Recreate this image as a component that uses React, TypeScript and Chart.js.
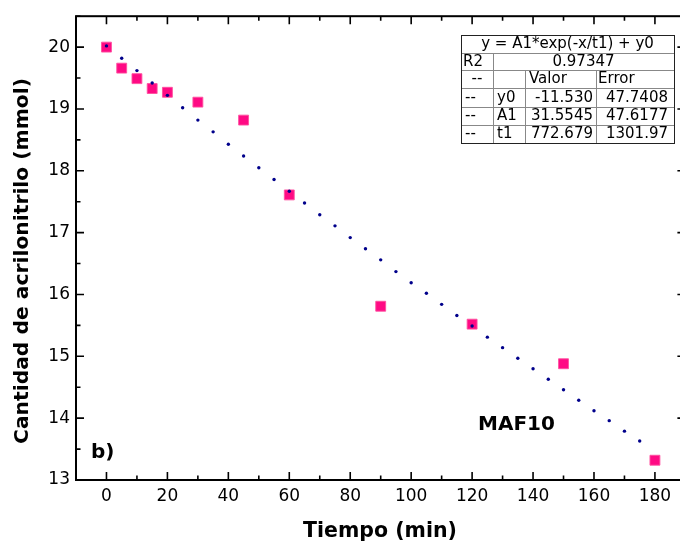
import React, { useEffect, useRef } from 'react';
import { Chart, registerables } from 'chart.js';
Chart.register(...registerables);

// Measured data (Tiempo in min, Cantidad de acrilonitrilo in mmol)
const TIME = [0, 5, 10, 15, 20, 30, 45, 60, 90, 120, 150, 180];
const AMOUNT = [20.0, 19.66, 19.49, 19.33, 19.27, 19.11, 18.82, 17.61, 15.81, 15.52, 14.88, 13.32];

// Fitted curve points (dotted line)
const FIT_X = [0, 5, 10, 15, 20, 25, 30, 35, 40, 45, 50, 55, 60, 65, 70, 75, 80, 85, 90, 95, 100, 105, 110, 115, 120, 125, 130, 135, 140, 145, 150, 155, 160, 165, 170, 175];
const FIT_Y = [20.02, 19.82, 19.62, 19.42, 19.22, 19.02, 18.82, 18.63, 18.43, 18.24, 18.05, 17.86, 17.67, 17.48, 17.29, 17.11, 16.92, 16.74, 16.56, 16.37, 16.19, 16.02, 15.84, 15.66, 15.49, 15.31, 15.14, 14.97, 14.80, 14.63, 14.46, 14.29, 14.12, 13.96, 13.79, 13.63];

const X_TICKS = [0, 20, 40, 60, 80, 100, 120, 140, 160, 180];
const X_MINOR = [-10, 10, 30, 50, 70, 90, 110, 130, 150, 170, 190];
const Y_TICKS = [13, 14, 15, 16, 17, 18, 19, 20];
const Y_MINOR = [13.5, 14.5, 15.5, 16.5, 17.5, 18.5, 19.5, 20.5];

const X_TITLE = 'Tiempo (min)';
const Y_TITLE = 'Cantidad de acrilonitrilo (mmol)';
const SAMPLE_LABEL = 'MAF10';
const PANEL_LABEL = 'b)';

const FIT_EQUATION = 'y = A1*exp(-x/t1) + y0';
const R2_VALUE = '0.97347';
const PARAM_NAMES = ['y0', 'A1', 't1'];
const PARAM_VALUES = ['-11.530', '31.5545', '772.679'];
const PARAM_ERRORS = ['47.7408', '47.6177', '1301.97'];

const FONT = '"DejaVu Sans", Verdana, sans-serif';

const framePlugin = {
  id: 'frameAndText',
  afterDatasetsDraw(chart: any) {
    const { ctx, chartArea: a, scales } = chart;
    const xs = scales.x;
    const ys = scales.y;
    ctx.save();
    ctx.strokeStyle = '#000';
    ctx.lineCap = 'butt';
    // ticks
    ctx.lineWidth = 1.6;
    const major = 8;
    const minor = 4.5;
    const drawX = (v: number, len: number) => {
      const px = xs.getPixelForValue(v);
      ctx.beginPath();
      ctx.moveTo(px, a.bottom);
      ctx.lineTo(px, a.bottom - len);
      ctx.moveTo(px, a.top);
      ctx.lineTo(px, a.top + len);
      ctx.stroke();
    };
    const drawY = (v: number, len: number) => {
      const py = ys.getPixelForValue(v);
      ctx.beginPath();
      ctx.moveTo(a.left, py);
      ctx.lineTo(a.left + len, py);
      ctx.moveTo(a.right, py);
      ctx.lineTo(a.right - len, py);
      ctx.stroke();
    };
    X_TICKS.forEach((v) => drawX(v, major));
    X_MINOR.forEach((v) => drawX(v, minor));
    Y_TICKS.forEach((v) => drawY(v, major));
    Y_MINOR.forEach((v) => drawY(v, minor));
    // frame
    ctx.lineWidth = 2;
    ctx.strokeRect(a.left, a.top, a.right - a.left, a.bottom - a.top);

    // axis titles
    ctx.fillStyle = '#000';
    ctx.font = `bold 20.5px ${FONT}`;
    ctx.textAlign = 'center';
    ctx.textBaseline = 'middle';
    ctx.fillText(X_TITLE, 380, 532);
    ctx.save();
    ctx.font = `bold 20.3px ${FONT}`;
    ctx.translate(23, 261);
    ctx.rotate(-Math.PI / 2);
    ctx.fillText(Y_TITLE, 0, 0);
    ctx.restore();

    // annotations
    ctx.font = `bold 20px ${FONT}`;
    ctx.textAlign = 'left';
    ctx.fillText(SAMPLE_LABEL, 478, 425);
    ctx.fillText(PANEL_LABEL, 91, 453);

    // fit table
    const x0 = 461, x1 = 674, c1 = 493, c2 = 525, c3 = 596;
    const rows = [35, 53, 70, 88, 107, 125, 143];
    ctx.fillStyle = '#fff';
    ctx.fillRect(x0, rows[0], x1 - x0, rows[6] - rows[0]);
    ctx.strokeStyle = '#888';
    ctx.lineWidth = 1;
    ctx.beginPath();
    for (let i = 1; i < 6; i++) {
      ctx.moveTo(x0, rows[i] + 0.5);
      ctx.lineTo(x1, rows[i] + 0.5);
    }
    ctx.moveTo(c1 + 0.5, rows[1]);
    ctx.lineTo(c1 + 0.5, rows[6]);
    ctx.moveTo(c2 + 0.5, rows[2]);
    ctx.lineTo(c2 + 0.5, rows[6]);
    ctx.moveTo(c3 + 0.5, rows[2]);
    ctx.lineTo(c3 + 0.5, rows[6]);
    ctx.stroke();
    ctx.strokeStyle = '#222';
    ctx.strokeRect(x0 + 0.5, rows[0] + 0.5, x1 - x0, rows[6] - rows[0]);

    ctx.fillStyle = '#000';
    ctx.font = `15px ${FONT}`;
    ctx.textBaseline = 'middle';
    const mid = (i: number) => (rows[i] + rows[i + 1]) / 2 + 0.5;
    ctx.textAlign = 'center';
    ctx.fillText(FIT_EQUATION, (x0 + x1) / 2, mid(0));
    ctx.fillText(R2_VALUE, (c1 + x1) / 2, mid(1));
    ctx.textAlign = 'left';
    ctx.fillText('R2', x0 + 2, mid(1));
    ctx.textAlign = 'center';
    ctx.fillText('--', (x0 + c1) / 2, mid(2));
    ctx.textAlign = 'left';
    ctx.fillText('Valor', c2 + 4, mid(2));
    ctx.fillText('Error', c3 + 2, mid(2));
    for (let i = 0; i < 3; i++) {
      ctx.textAlign = 'left';
      ctx.fillText('--', x0 + 4, mid(3 + i));
      ctx.fillText(PARAM_NAMES[i], c1 + 4, mid(3 + i));
      ctx.textAlign = 'right';
      ctx.fillText(PARAM_VALUES[i], c3 - 3, mid(3 + i));
      ctx.fillText(PARAM_ERRORS[i], x1 - 6, mid(3 + i));
    }
    ctx.restore();
  },
};

export default function App() {
  const ref = useRef<HTMLCanvasElement>(null);
  useEffect(() => {
    if (!ref.current) return;
    const chart = new Chart(ref.current, {
      type: 'scatter',
      data: {
        datasets: [
          {
            label: 'fit',
            data: FIT_X.map((x, i) => ({ x, y: FIT_Y[i] })),
            pointRadius: 1.7,
            pointStyle: 'circle',
            backgroundColor: '#00008B',
            borderColor: '#00008B',
            borderWidth: 0,
            showLine: false,
            order: 0,
          },
          {
            label: 'data',
            data: TIME.map((x, i) => ({ x, y: AMOUNT[i] })),
            pointRadius: 7,
            pointStyle: 'rect',
            backgroundColor: '#FF0A84',
            borderColor: 'rgba(255,80,160,0.9)',
            borderWidth: 1,
            order: 1,
          },
        ],
      },
      options: {
        animation: false,
        responsive: false,
        events: [],
        layout: { padding: { top: 13, right: 14.6, left: 0, bottom: 0 } },
        plugins: { legend: { display: false }, tooltip: { enabled: false } },
        scales: {
          x: {
            type: 'linear',
            min: -10,
            max: 190,
            grid: { display: false, drawTicks: false },
            border: { display: false },
            afterBuildTicks: (s: any) => {
              s.ticks = X_TICKS.map((v) => ({ value: v }));
            },
            afterFit: (s: any) => {
              s.height = 66;
            },
            ticks: {
              color: '#000',
              font: { family: FONT, size: 17 },
              padding: 6,
              maxRotation: 0,
              autoSkip: false,
            },
          },
          y: {
            type: 'linear',
            min: 13,
            max: 20.5,
            grid: { display: false, drawTicks: false },
            border: { display: false },
            afterBuildTicks: (s: any) => {
              s.ticks = Y_TICKS.map((v) => ({ value: v }));
            },
            afterFit: (s: any) => {
              s.width = 76;
            },
            ticks: {
              color: '#000',
              font: { family: FONT, size: 17 },
              padding: 6,
              autoSkip: false,
            },
          },
        },
      },
      plugins: [framePlugin],
    });
    return () => chart.destroy();
  }, []);
  return (
    <div style={{ position: 'fixed', left: 0, top: 0, width: 680, height: 546, overflow: 'hidden', background: '#fff' }}>
      <canvas ref={ref} width={700} height={546} style={{ width: 700, height: 546, display: 'block' }} />
    </div>
  );
}
